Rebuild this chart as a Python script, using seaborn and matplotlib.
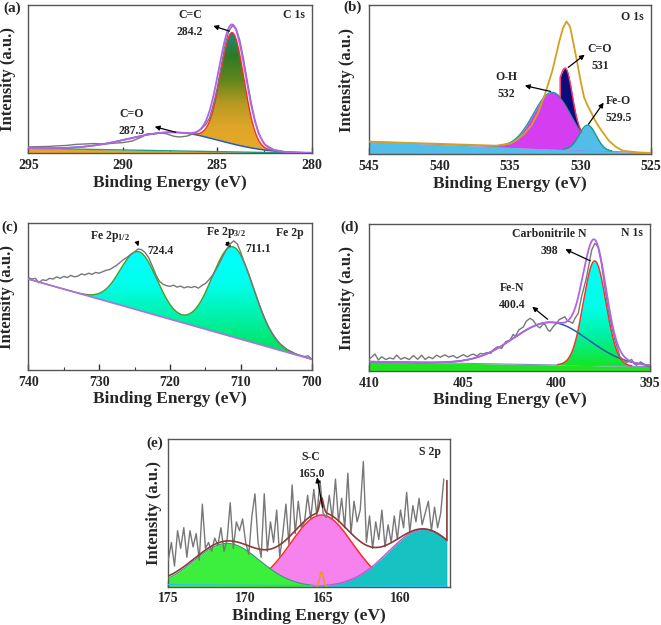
import numpy as np
import pandas as pd
import matplotlib.pyplot as plt
import seaborn as sns
from matplotlib.colors import LinearSegmentedColormap
from matplotlib.patches import Polygon
from matplotlib.ticker import MultipleLocator

sns.set_style("ticks")
plt.rcParams['font.family'] = ['Liberation Serif', 'DejaVu Serif']
plt.rcParams['font.weight'] = 'bold'
plt.rcParams['axes.labelweight'] = 'bold'
plt.rcParams['mathtext.default'] = 'regular'

# ---------------- (a) C 1s ----------------
c1s_be = [295, 294.5, 294, 293.5, 293, 292.5, 292, 291.5, 291, 290.5, 290, 289.5, 289, 288.7,
          288.4, 288, 287.7, 287.3, 287, 286.6, 286.2, 285.9, 285.6, 285.4, 285.2, 285, 284.8,
          284.6, 284.4, 284.2, 284, 283.8, 283.6, 283.4, 283.2, 283, 282.8, 282.5, 282, 281.5,
          281, 280]
c1s_raw = [4.3, 4.5, 4.6, 5.0, 5.3, 6.0, 6.3, 6.6, 6.2, 6.8, 7.2, 8.3, 11.0, 13.2,
           13.0, 13.8, 13.2, 11.5, 11.0, 11.6, 13.5, 15.7, 19.5, 24, 33, 44, 58,
           72, 82, 86, 84, 76, 63, 48, 34, 22, 13, 6, 2.5, 1.2,
           0.8, 0.5]
c1s_centers = [284.2, 287.3]      # C=C, C=O
c1s_heights = [75.0, 12.5]
c1s_sigmas = [0.62, 2.4]
c1s_env_height = 80.5
c1s_env_sigma = 0.7
c1s_bg_be = [295, 280]
c1s_bg = [3.4, 0.0]

# ---------------- (b) O 1s ----------------
o1s_be = [545, 540, 536, 535, 534.5, 534, 533.5, 533, 532.5, 532, 531.5, 531.25, 531, 530.75,
          530.5, 530.25, 530, 529.75, 529.5, 529.25, 529, 528.75, 528.5, 528, 527.5, 527, 526, 525]
o1s_raw = [8.3, 6.8, 5.6, 7.0, 9.5, 13.5, 19, 28, 41, 56, 76, 84.5, 89, 85.5,
           74, 62, 49, 38, 32.5, 28, 23, 19, 15.5, 9, 4.8, 2.2, 1.1, 0.7]
o1s_centers = [532.0, 531.0, 529.5]   # O-H, C=O, Fe-O
o1s_heights = [38.0, 25.0, 17.0]
o1s_sigmas = [1.35, 0.4, 0.6]
o1s_co_range = [529.9, 531.46]
o1s_bg_be = [545, 525]
o1s_bg = [8.3, 0.7]

# ---------------- (c) Fe 2p ----------------
fe2p_start, fe2p_step = 740.0, 0.5
fe2p_raw = [63, 62, 62.5, 59.5, 61.5, 61, 62.5, 62, 63.5, 62.5,
            63.8, 63, 64.5, 63.5, 64, 65.5, 64.8, 66, 65.2, 66.5,
            66, 67, 68, 68.5, 70, 71.5, 73.5, 75.5, 77, 79,
            80.5, 82.5, 82, 80, 76.5, 71, 65, 60.5, 58.5, 57.5,
            57, 57.8, 56.5, 57.2, 56, 56.8, 56.2, 57, 55.8, 57.5,
            59, 61.5, 64.5, 68.5, 73, 78, 82.5, 86, 88, 86,
            80, 73, 67, 60, 53, 46, 39.5, 33.5, 28.6, 24.5,
            21, 18, 16, 14, 12.8, 11.5, 10.5, 9.8, 9.2, 9.6, 7.6]
fe2p_centers = [724.4, 711.1]     # Fe 2p1/2, Fe 2p3/2
fe2p_heights = [40.0, 61.5]
fe2p_sigmas = [2.6, 2.9]
fe2p_bg_be = [740, 700]
fe2p_bg = [62.0, 7.3]

# ---------------- (d) N 1s ----------------
n1s_be = [410, 409.85, 409.68, 409.5, 409.32, 409.1, 408.9, 408.7, 408.52, 408.3, 408.1, 407.85,
          407.63, 407.4, 407.19, 407.0, 406.8, 406.6, 406.39, 406.2, 405.94, 405.75, 405.5,
          405.3, 405.1, 404.96, 404.75, 404.6, 404.43, 404.25, 404.05, 403.9, 403.7, 403.5,
          403.36, 403.15, 402.92, 402.7, 402.47, 402.3, 402.2, 402.0, 401.76, 401.6, 401.4,
          401.23, 401.05, 400.87, 400.7, 400.6, 400.45, 400.34, 400.15, 399.98, 399.85, 399.72,
          399.54, 399.4, 399.27, 399.13, 399.0, 398.83, 398.65, 398.5, 398.38, 398.25, 398.11,
          397.94, 397.85, 397.76, 397.6, 397.49, 397.35, 397.22, 397.05, 396.87, 396.7, 396.6,
          396.4, 396.25, 395.98, 395.85, 395.71, 395.5, 395.36, 395.2, 395.0]
n1s_raw = [8, 9.5, 11.6, 7.5, 9.7, 7.8, 9, 8.2, 10.8, 8, 9.2, 7.8,
           10.5, 8, 10.8, 7.9, 9.6, 8.4, 10.8, 9.4, 11, 9.5, 10.5,
           8.8, 10.2, 11.2, 9.6, 10.8, 11.5, 10.2, 12.0, 11.6, 12.6, 12,
           14.5, 16.5, 15.4, 20, 21, 25, 23.4, 28, 30, 34, 35.9,
           34.5, 31, 29.4, 32, 31.6, 28, 27, 30.5, 32.5, 35, 35.8,
           37, 34, 33.6, 32.5, 36, 39.3, 50.7, 58, 64.3, 73, 82.5,
           87, 86, 84, 74, 64.3, 52, 41.6, 31, 21, 14, 9.7,
           7.5, 5.6, 7.9, 5, 4, 6.2, 5.1, 3.5, 2.8]
n1s_centers = [400.3, 397.95]     # Fe-N, carbonitrile N
n1s_heights = [29.0, 71.4]
n1s_sigmas = [2.0, 0.6]
n1s_bg_be = [410, 395]
n1s_bg = [6.4, 3.0]

# ---------------- (e) S 2p ----------------
s2p_start, s2p_step = 175.0, 0.2
s2p_raw = [18, 30, 14, 38, 26, 40, 20, 38, 27, 36,
           18, 56, 26, 30, 24, 33, 28, 40, 24, 32,
           57, 26, 44, 38, 46, 30, 22, 48, 63, 30,
           20, 63, 24, 44, 30, 52, 20, 36, 56, 28,
           69, 36, 58, 40, 44, 62, 46, 66, 48, 72,
           50, 47, 62, 46, 73, 44, 60, 40, 77, 36,
           58, 44, 52, 85, 30, 48, 26, 44, 32, 52,
           27, 42, 30, 48, 32, 52, 40, 64, 37, 55,
           44, 60, 42, 50, 58, 38, 54, 40, 50, 73]
s2p_centers = [171.2, 165.1, 158.5]   # green, S-C, teal
s2p_heights = [29.4, 48.6, 38.9]
s2p_sigmas = [2.1, 2.0, 2.3]
s2p_sc_range = [161.7, 168.5]
s2p_spike = [165.1, 10.0, 0.12]
s2p_bg_be = [175, 157]
s2p_bg = [1.5, 0.0]
s2p_end = [157.0, 72.0]


def gauss(x, c, h, s):
    return h * np.exp(-(x - c) ** 2 / (2 * s ** 2))


def linear_bg(x, be, val):
    return np.interp(x, be[::-1], val[::-1])


def grad_fill(ax, x, y0, y1, colors, vmin, vmax, z=2):
    # vertical colour gradient clipped to the area between y0 and y1
    cmap = LinearSegmentedColormap.from_list('g', colors)
    verts = np.vstack([np.column_stack([x, y1]), np.column_stack([x[::-1], y0[::-1]])])
    patch = Polygon(verts, closed=True, facecolor='none', edgecolor='none')
    ax.add_patch(patch)
    ylo = min(y0.min(), vmin) - 1
    yhi = max(y1.max(), vmax) + 1
    ys = np.linspace(ylo, yhi, 400)
    grad = np.clip((ys - vmin) / (vmax - vmin), 0, 1).reshape(-1, 1)
    im = ax.imshow(grad, extent=[x.min(), x.max(), ylo, yhi], origin='lower',
                   aspect='auto', cmap=cmap, vmin=0, vmax=1, zorder=z,
                   interpolation='bilinear')
    im.set_clip_path(patch)


def curve(ax, x, y, color, lw=1.0, z=3):
    sns.lineplot(x=x, y=y, ax=ax, color=color, lw=lw, estimator=None, sort=False, zorder=z)


def style(ax, xlim, major, minor, letter, letter_xy, title, title_xy, ylab_x):
    ax.set_xlim(*xlim)
    ax.set_ylim(0, 100)
    ax.set_yticks([])
    ax.xaxis.set_major_locator(MultipleLocator(major))
    ax.xaxis.set_minor_locator(MultipleLocator(minor))
    ax.tick_params(axis='x', which='major', direction='in', length=4, width=1,
                   labelsize=10, pad=4, top=False, color='#333333')
    ax.tick_params(axis='x', which='minor', direction='in', length=2.5, width=0.8,
                   top=False, color='#333333')
    for lab in ax.get_xticklabels():
        lab.set_fontweight('bold')
    for sp in ax.spines.values():
        sp.set_color('#555555')
        sp.set_linewidth(1.0)
    ax.set_xlabel('Binding Energy (eV)', fontsize=12.5, fontweight='bold')
    ax.set_ylabel('Intensity (a.u.)', fontsize=12, fontweight='bold')
    ax.xaxis.set_label_coords(0.5, -0.145)
    ax.yaxis.set_label_coords(ylab_x, 0.5)
    ax.text(letter_xy[0], letter_xy[1], letter, transform=ax.transAxes, fontsize=11,
            fontweight='bold', ha='center', va='center')
    ax.text(title_xy[0], title_xy[1], title, fontsize=8.5, fontweight='bold',
            ha='center', va='center')


def label(ax, xy, text, head, tail, fs=8.5):
    ax.text(xy[0], xy[1], text, ha='center', va='center', fontsize=fs,
            fontweight='bold', linespacing=1.55, zorder=6)
    ax.annotate('', xy=head, xytext=tail,
                arrowprops=dict(arrowstyle='-|>', color='black', lw=0.9, mutation_scale=7),
                zorder=6)


fig = plt.figure(figsize=(6.61, 6.25), dpi=100)
ax_a = fig.add_axes([0.0428, 0.7547, 0.4287, 0.2373])
ax_b = fig.add_axes([0.5587, 0.7536, 0.4262, 0.2384])
ax_c = fig.add_axes([0.0428, 0.4080, 0.4287, 0.2347])
ax_d = fig.add_axes([0.5582, 0.4064, 0.4251, 0.2347])
ax_e = fig.add_axes([0.2546, 0.0613, 0.4262, 0.2358])

# ---- (a)
ax = ax_a
x = np.linspace(280, 295, 900)
bg = linear_bg(x, c1s_bg_be, c1s_bg)
co = gauss(x, c1s_centers[1], c1s_heights[1], c1s_sigmas[1])
cc = gauss(x, c1s_centers[0], c1s_heights[0], c1s_sigmas[0])
env = bg + co + gauss(x, c1s_centers[0], c1s_env_height, c1s_env_sigma)
ax.fill_between(x, 0, bg, color='#e6a62c', lw=0, zorder=1)
curve(ax, x, bg, '#1ea37c', 1.0, 2)
curve(ax, x, bg + co, '#1f5fbf', 1.1, 3)
m = cc > 0.4
grad_fill(ax, x[m], (bg + co)[m], (bg + co + cc)[m],
          ['#e9a92a', '#e0a628', '#b89a22', '#5f861c', '#2e7a24', '#1a8a86'], 0, 82)
curve(ax, x[m], (bg + co + cc)[m], '#ff2a2a', 1.0, 4)
curve(ax, np.array(c1s_be), np.array(c1s_raw), '#777777', 1.0, 4)
curve(ax, x, env, '#b463e6', 1.3, 5)
label(ax, (286.45, 87.5), 'C=C\n284.2', (285.35, 86.5), (284.22, 81.8))
label(ax, (289.55, 20.5), 'C=O\n287.3', (288.45, 18.4), (287.05, 13.7))
style(ax, (295, 280), 5, 2.5, '(a)', (-0.0575, 0.98), 'C 1s', (280.95, 93.5), -0.045)

# ---- (b)
ax = ax_b
x = np.linspace(525, 545, 900)
bg = linear_bg(x, o1s_bg_be, o1s_bg)
oh = gauss(x, o1s_centers[0], o1s_heights[0], o1s_sigmas[0])
co = gauss(x, o1s_centers[1], o1s_heights[1], o1s_sigmas[1])
feo = gauss(x, o1s_centers[2], o1s_heights[2], o1s_sigmas[2])
ax.fill_between(x, 0, bg, color='#52bde9', lw=0, zorder=1)
curve(ax, x, bg, '#a77cc7', 0.8, 2)
m = oh > 0.3
ax.fill_between(x[m], bg[m], (bg + oh)[m], color='#d43df0', lw=0, zorder=2)
curve(ax, x[m], (bg + oh)[m], '#1b9aa0', 1.0, 3)
m = (x >= o1s_co_range[0]) & (x <= o1s_co_range[1])
ax.fill_between(x[m], (bg + oh)[m], (bg + oh + co)[m], color='#0b0b7a', lw=0, zorder=3)
xm = np.concatenate([[x[m][-1]], x[m][::-1]])
ym = np.concatenate([[(bg + oh)[m][-1]], (bg + oh + co)[m][::-1]])
curve(ax, xm, ym, '#ff3366', 1.0, 4)
m = feo > 0.3
ax.fill_between(x[m], bg[m], (bg + feo)[m], color='#52bde9', lw=0, zorder=3)
curve(ax, x[m], (bg + feo)[m], '#1b9a86', 1.0, 4)
curve(ax, np.array(o1s_be), np.array(o1s_raw), '#d4a020', 1.3, 5)
label(ax, (528.62, 64.5), 'C=O\n531', (529.55, 67.8), (531.03, 57.0))
label(ax, (535.25, 46.0), 'O-H\n532', (534.15, 46.3), (531.95, 41.6))
label(ax, (527.3, 30.0), 'Fe-O\n529.5', (528.25, 36.0), (529.55, 18.5))
style(ax, (545, 525), 5, 2.5, '(b)', (-0.061, 0.985), 'O 1s', (526.35, 92), -0.051)

# ---- (c)
ax = ax_c
x = np.linspace(700, 740, 900)
bg = linear_bg(x, fe2p_bg_be, fe2p_bg)
comp = sum(gauss(x, c, h, s) for c, h, s in zip(fe2p_centers, fe2p_heights, fe2p_sigmas))
grad_fill(ax, x, bg, bg + comp, ['#00e04a', '#00f0a0', '#00ffee', '#00ffff'], 8, 85)
curve(ax, x, bg + comp, '#4f9a2c', 1.0, 3)
fe_be = fe2p_start - fe2p_step * np.arange(len(fe2p_raw))
curve(ax, fe_be, np.array(fe2p_raw), '#777777', 1.0, 4)
curve(ax, x, bg, '#b070e0', 1.2, 5)
ax.text(728.4, 91.0, 'Fe 2p$_{1/2}$', ha='center', va='center', fontsize=8.5, fontweight='bold')
ax.text(721.4, 81.0, '724.4', ha='center', va='center', fontsize=8.5, fontweight='bold')
ax.annotate('', xy=(724.35, 82.5), xytext=(724.7, 88.0),
            arrowprops=dict(arrowstyle='-|>', color='black', lw=0.9, mutation_scale=6))
ax.text(712.1, 94.0, 'Fe 2p$_{3/2}$', ha='center', va='center', fontsize=8.5, fontweight='bold')
ax.text(707.6, 82.5, '711.1', ha='center', va='center', fontsize=8.5, fontweight='bold')
ax.annotate('', xy=(711.1, 82.5), xytext=(712.3, 88.0),
            arrowprops=dict(arrowstyle='-|>', color='black', lw=1.2, mutation_scale=6))
style(ax, (740, 700), 10, 5, '(c)', (-0.065, 0.975), 'Fe 2p', (703.1, 93.4), -0.047)

# ---- (d)
ax = ax_d
x = np.linspace(395, 410, 900)
bg = linear_bg(x, n1s_bg_be, n1s_bg)
fen = gauss(x, n1s_centers[0], n1s_heights[0], n1s_sigmas[0])
cn = gauss(x, n1s_centers[1], n1s_heights[1], n1s_sigmas[1])
ax.fill_between(x, 0, bg, color='#1ee61e', lw=0, zorder=1)
curve(ax, x, bg, '#8a8ad0', 0.8, 2)
curve(ax, x, bg + fen, '#1f5fa8', 1.1, 3)
m = cn > 0.3
grad_fill(ax, x[m], bg[m], (bg + cn)[m], ['#14e628', '#00f0a0', '#00ffe8', '#00ffee'], 4, 62)
curve(ax, x[m], (bg + cn)[m], '#ff2a2a', 1.0, 4)
curve(ax, np.array(n1s_be), np.array(n1s_raw), '#777777', 1.0, 4)
curve(ax, x, bg + fen + cn, '#b463e6', 1.3, 5)
label(ax, (400.35, 87.5), 'Carbonitrile N\n398', (399.65, 83.8), (398.05, 74.3))
label(ax, (402.35, 50.5), 'Fe-N\n400.4', (401.4, 45.0), (400.35, 34.1))
style(ax, (410, 395), 5, 2.5, '(d)', (-0.068, 0.98), 'N 1s', (395.96, 94), -0.05)

# ---- (e)
ax = ax_e
x = np.linspace(s2p_end[0], 175, 900)
bg = linear_bg(x, s2p_bg_be, s2p_bg)
g1 = gauss(x, s2p_centers[0], s2p_heights[0], s2p_sigmas[0])
g2 = gauss(x, s2p_centers[1], s2p_heights[1], s2p_sigmas[1])
g3 = gauss(x, s2p_centers[2], s2p_heights[2], s2p_sigmas[2])
sp = gauss(x, *s2p_spike)
m = (x >= s2p_sc_range[0]) & (x <= s2p_sc_range[1])
ax.fill_between(x[m], 0, g2[m], color='#f682ee', lw=0, zorder=1)
curve(ax, x[m], g2[m], '#ff2a2a', 1.1, 2)
ax.fill_between(x, 0, g1, where=g1 > 0.3, color='#3cef3c', lw=0, zorder=2)
curve(ax, x[g1 > 0.3], g1[g1 > 0.3], '#2f9a70', 0.8, 3)
ax.fill_between(x, 0, g3, where=g3 > 0.3, color='#16c2c2', lw=0, zorder=2)
curve(ax, x[g3 > 0.3], g3[g3 > 0.3], '#c058d0', 1.0, 3)
curve(ax, x, bg, '#33bbee', 0.8, 3)
curve(ax, x[sp > 0.2], sp[sp > 0.2], '#e0a010', 1.0, 3)
s_be = s2p_start - s2p_step * np.arange(len(s2p_raw))
curve(ax, s_be, np.array(s2p_raw), '#777777', 1.0, 4)
env = bg + g1 + g2 + g3 + sp
env_x = np.concatenate([[s2p_end[0]], x])
env_y = np.concatenate([[s2p_end[1]], env])
curve(ax, env_x, env_y, '#8b3a3a', 1.2, 5)
label(ax, (165.78, 82.0), 'S-C\n165.0', (165.42, 76.0), (165.0, 52.0))
style(ax, (175, 156.8), 5, 2.5, '(e)', (-0.047, 0.975), 'S 2p', (158.09, 91.7), -0.022)

fig.savefig('out.png', dpi=100)
